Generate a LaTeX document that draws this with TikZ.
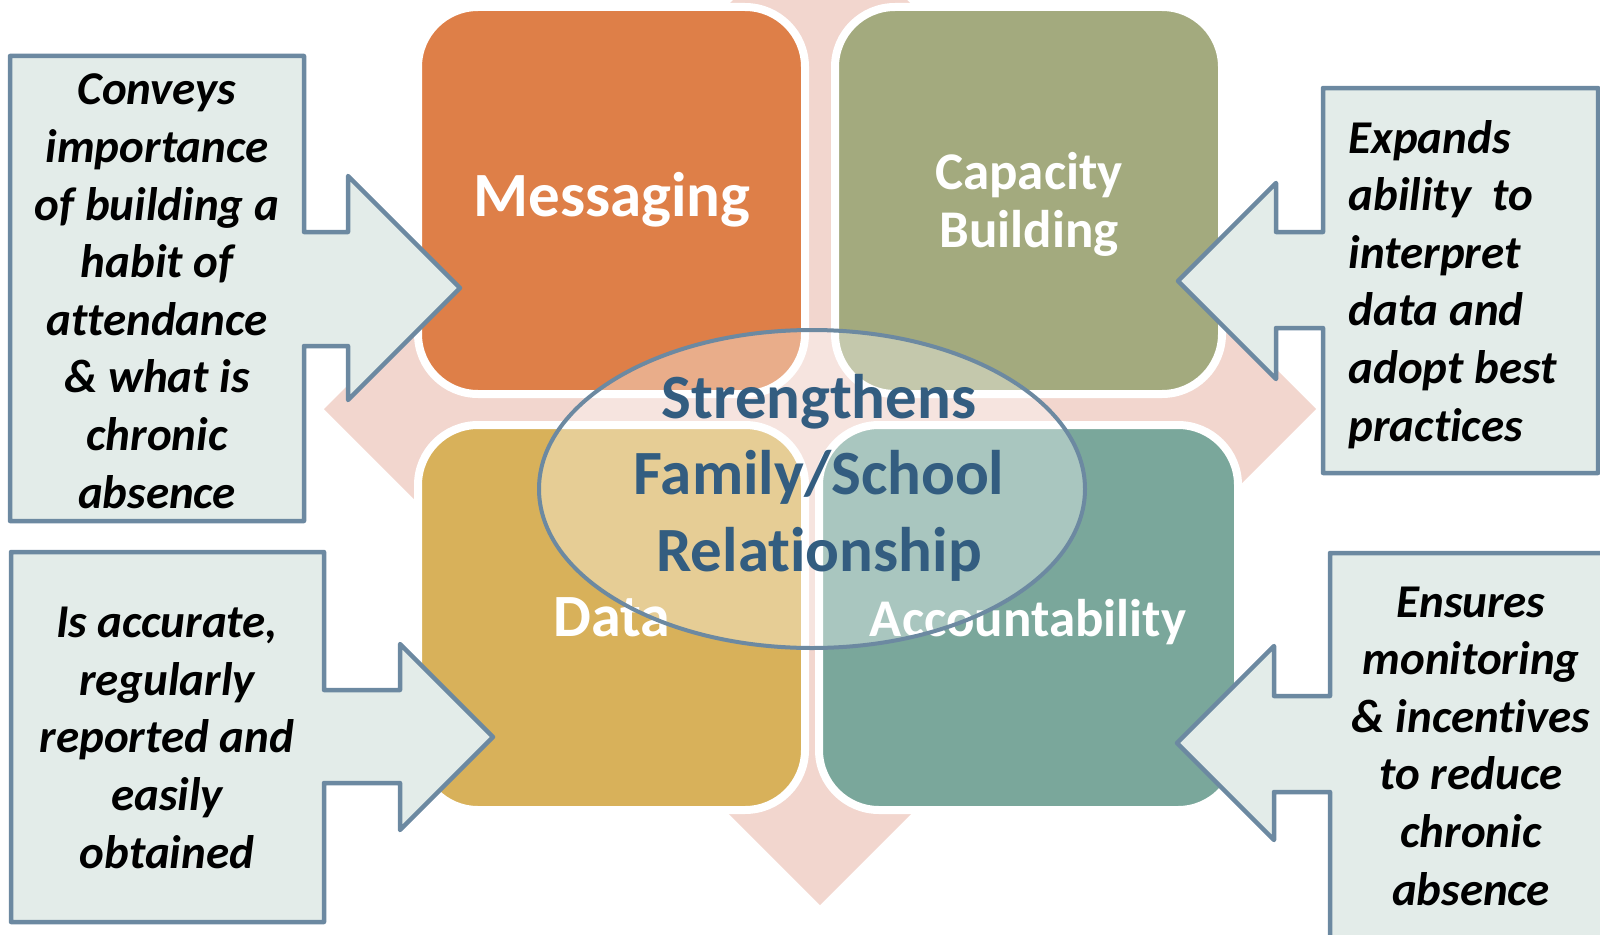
\documentclass[tikz,border=0pt]{standalone}
\usepackage{fontspec}
\setmainfont{Carlito}[Ligatures=NoCommon]
\usetikzlibrary{shadows}

\definecolor{msgorange}{HTML}{DE7F48}
\definecolor{capgreen}{HTML}{A3AA7E}
\definecolor{datagold}{HTML}{D8B15A}
\definecolor{accteal}{HTML}{7AA79B}
\definecolor{diamondpink}{HTML}{F2D6CE}
\definecolor{calloutfill}{HTML}{E3ECE9}
\definecolor{calloutline}{HTML}{6C89A1}
\definecolor{relblue}{HTML}{335D80}

\tikzset{
  tile/.style={draw=white, line width=8pt, rounded corners=60pt,
    drop shadow={shadow xshift=1.5pt, shadow yshift=-2.5pt, opacity=.3, fill=gray}},
  tilelabel/.style={text=white, align=center, anchor=base},
  relring/.style={draw=calloutline, line width=4pt, fill=white, fill opacity=.36},
  reltext/.style={text=relblue, align=center, anchor=base,
    font=\bfseries\fontsize{63}{76.5}\selectfont},
  callout/.style={fill=calloutfill, draw=calloutline, line width=4.5pt, line join=round},
  notetext/.style={align=center, anchor=base,
    font=\bfseries\itshape\fontsize{47}{57.6}\selectfont},
}

\begin{document}
\begin{tikzpicture}[x=1pt, y=-1pt]
\useasboundingbox (0,0) rectangle (1600,934);
\clip (0,0) rectangle (1600,934);

% diamond behind the matrix
\fill[diamondpink] (820,-87) -- (1316,409) -- (820,905) -- (324,409) -- cycle;

% the four tiles
\draw[tile, fill=msgorange] (418,7) rectangle (805,394);
\draw[tile, fill=capgreen] (835,7) rectangle (1222,394);
\draw[tile, fill=datagold] (418,425) rectangle (805,810);
\draw[tile, fill=accteal] (819,425) rectangle (1238,810);

% labels sit on the baseline of their last line
\node[tilelabel, font=\bfseries\fontsize{63}{76}\selectfont] (messaging) at (612,216) {Messaging};
\node[tilelabel, font=\bfseries\fontsize{53}{58}\selectfont] (capacity) at (1029,247) {Capacity\\Building};
\node[tilelabel, font=\bfseries\fontsize{60}{70}\selectfont] (data) at (612,636) {Data};
\node[tilelabel, font=\bfseries\fontsize{53}{64}\selectfont] (account) at (1028,636) {Accountability};

% ring in the middle
\draw[relring] (812,489) ellipse [x radius=273, y radius=159];
\node[reltext] (relation) at (819,571) {Strengthens\\Family/School\\Relationship};

% callouts
\draw[callout] (10,56) -- (304,56) -- (304,232) -- (348,232) -- (348,176) -- (460,288)
  -- (348,400) -- (348,346) -- (304,346) -- (304,521) -- (10,521) -- cycle;
\node[notetext] (conveys) at (157,508)
  {Conveys\\importance\\of building a\\habit of\\attendance\\\& what is\\chronic\\absence};

\draw[callout] (11,552) -- (324,552) -- (324,690) -- (400,690) -- (400,644) -- (493,737)
  -- (400,830) -- (400,783) -- (324,783) -- (324,922) -- (11,922) -- cycle;
\node[notetext] (accurate) at (167,868)
  {Is accurate,\\regularly\\reported and\\easily\\obtained};

\draw[callout] (1598,88) -- (1323,88) -- (1323,232) -- (1276,232) -- (1276,183) -- (1178,281)
  -- (1276,379) -- (1276,328) -- (1323,328) -- (1323,473) -- (1598,473) -- cycle;
\node[notetext, align=left, anchor=base west] (expands) at (1345,441)
  {Expands\\ability~ to\\interpret\\data and\\adopt best\\practices};

\draw[callout] (1620,553) -- (1330,553) -- (1330,696) -- (1274,696) -- (1274,646) -- (1177,743)
  -- (1274,840) -- (1274,792) -- (1330,792) -- (1330,950) -- (1620,950) -- cycle;
\node[notetext] (ensures) at (1471,905)
  {Ensures\\monitoring\\\& incentives\\to reduce\\chronic\\absence};
\end{tikzpicture}
\end{document}
